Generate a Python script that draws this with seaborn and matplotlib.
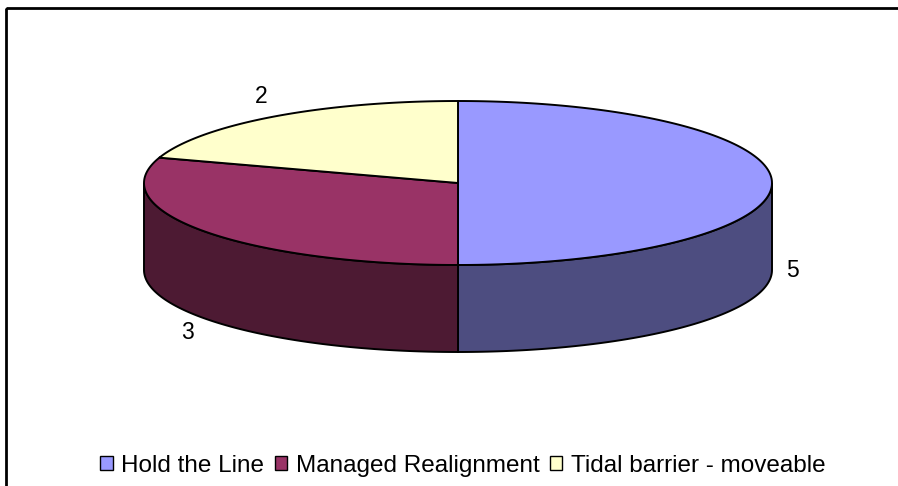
import matplotlib
matplotlib.use('Agg')
import matplotlib.pyplot as plt
import seaborn as sns
import numpy as np
from matplotlib.patches import Polygon, Patch, Rectangle

categories = ['Hold the Line', 'Managed Realignment', 'Tidal barrier - moveable']
values = [5, 3, 2]
top_colors = ['#9999FF', '#993366', '#FFFFCC']
side_colors = ['#4D4D80', '#4D1A33', '#80804D']

sns.set_style('white')
plt.rcParams['font.family'] = ['Liberation Sans', 'DejaVu Sans']
plt.rcParams['text.color'] = 'black'

# pie geometry in pixel units
cx, cy, rx, ry, depth = 458, 183, 314, 82, 87

def pt(t, dy=0):
    t = np.radians(t)
    return cx + rx * np.cos(t), cy - ry * np.sin(t) + dy

fig = plt.figure(figsize=(8.98, 4.86), dpi=100)
ax = fig.add_axes([0, 0, 1, 1])
ax.set_xlim(0, 898)
ax.set_ylim(486, 0)
ax.axis('off')

ax.add_patch(Rectangle((6, 8), 900, 500, fill=False, lw=2, ec='black'))

total = sum(values)
edges = 90 - 360 * np.concatenate([[0], np.cumsum(values)]) / total

# side walls (front half only)
for i in range(len(values)):
    lo, hi = max(edges[i + 1], -180), min(edges[i], 0)
    if lo < hi:
        ts = np.linspace(lo, hi, 100)
        top = [pt(t) for t in ts]
        bot = [pt(t, depth) for t in ts[::-1]]
        ax.add_patch(Polygon(top + bot, closed=True, fc=side_colors[i], ec='black', lw=1.4))

# top face
for i in range(len(values)):
    ts = np.linspace(edges[i + 1], edges[i], 150)
    pts = [(cx, cy)] + [pt(t) for t in ts]
    ax.add_patch(Polygon(pts, closed=True, fc=top_colors[i], ec='black', lw=1.4, joinstyle='round'))

# data labels
for i, v in enumerate(values):
    m = np.radians((edges[i] + edges[i + 1]) / 2)
    x = cx + rx * 1.065 * np.cos(m)
    y = cy - ry * 1.3 * np.sin(m)
    if np.sin(m) <= 0.01:
        y += depth
    ax.text(x, y, str(v), ha='center', va='center', fontsize=16.5, color='black')

handles = [Patch(fc=c, ec='black', lw=1) for c in top_colors]
ax.legend(handles, categories, loc='center', bbox_to_anchor=(463 / 898, 1 - 466 / 486),
          ncol=3, frameon=False, fontsize=17.5, handlelength=0.5, handleheight=0.5,
          handletextpad=0.35, columnspacing=0.45, labelcolor='black')

fig.savefig('out.png', dpi=100)
